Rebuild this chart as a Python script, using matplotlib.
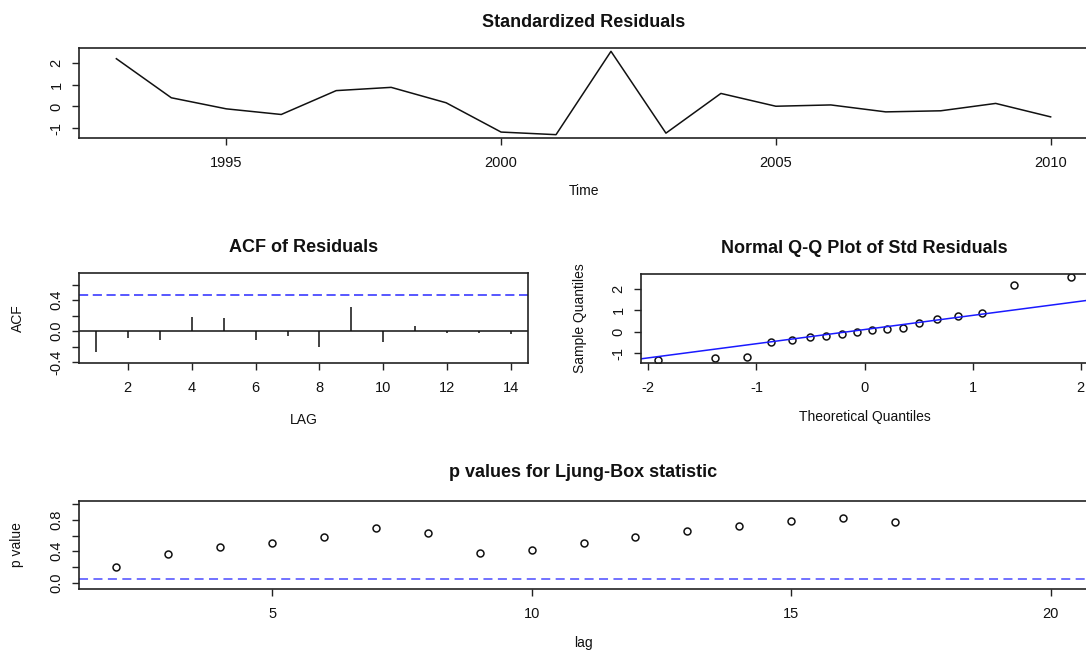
import numpy as np
import matplotlib
matplotlib.use("Agg")
import matplotlib.pyplot as plt
from statistics import NormalDist

plt.rcParams['font.family'] = ['Liberation Sans', 'DejaVu Sans']
plt.rcParams['axes.unicode_minus'] = False

# ---------------- data ----------------
years = list(range(1993, 2011))
std_resid = [2.20, 0.40, -0.11, -0.37, 0.73, 0.88, 0.17, -1.18, -1.30,
             2.54, -1.23, 0.60, 0.01, 0.07, -0.25, -0.20, 0.14, -0.48]

acf_lags = list(range(1, 15))
acf_vals = [-0.27, -0.095, -0.12, 0.18, 0.17, -0.12, -0.06, -0.20, 0.31,
            -0.135, 0.07, -0.025, -0.02, -0.04]

lb_lags = list(range(2, 18))
lb_pvals = [0.20, 0.37, 0.456, 0.50, 0.58, 0.70, 0.63, 0.38, 0.42,
            0.50, 0.58, 0.66, 0.72, 0.78, 0.82, 0.77]
lb_max_lag = 20

n_obs = len(std_resid)

W, H = 1086, 650
fig = plt.figure(figsize=(W / 100, H / 100), dpi=100)


def pos(l, t, r, b):
    return [l / W, 1 - b / H, (r - l) / W, (b - t) / H]


def rlim(lo, hi):
    d = (hi - lo) * 0.04
    return lo - d, hi + d


def style(ax):
    for s in ax.spines.values():
        s.set_linewidth(1.2)
        s.set_color('#222222')
    ax.tick_params(direction='out', length=5, width=1, colors='#222222',
                   labelsize=10.5, labelcolor='#111111')
    ax.tick_params(axis='x', pad=8)
    ax.tick_params(axis='y', pad=6)
    for lab in ax.get_yticklabels():
        lab.set_rotation(90)
        lab.set_va('center')


TITLE_KW = dict(fontsize=13, fontweight='bold', color='#111111')
LABEL_KW = dict(fontsize=10, color='#111111')

# ---------------- top: standardized residuals ----------------
ax1 = fig.add_axes(pos(79, 48, 1088, 138))
ax1.plot(years, std_resid, color='#111111', lw=1.1)
ax1.set_xlim(*rlim(min(years), max(years)))
ax1.set_ylim(*rlim(min(std_resid), max(std_resid)))
ax1.set_xticks([1995, 2000, 2005, 2010])
ax1.set_yticks([-1, 0, 1, 2])
ax1.set_yticklabels(['-1', '0', '1', '2'])
ax1.set_title('Standardized Residuals', pad=15, **TITLE_KW)
ax1.set_xlabel('Time', **LABEL_KW)
ax1.xaxis.set_label_coords(0.5, -0.59)
ax1.xaxis.label.set_va('center')
style(ax1)

# ---------------- ACF of residuals ----------------
ax2 = fig.add_axes(pos(79, 273, 528, 363))
ax2.vlines(acf_lags, 0, acf_vals, color='#222222', lw=1.2)
ax2.axhline(0, color='#111111', lw=1.1)
L = 2 / np.sqrt(n_obs)
for yv in (L, -L):
    ax2.axhline(yv, color='#2a2aff', lw=1.1, dashes=(6, 3))
ax2.set_xlim(*rlim(min(acf_lags), max(acf_lags)))
ax2.set_ylim(*rlim(min(acf_vals) - 0.1, min(1, max(acf_vals) + 0.4)))
ax2.set_xticks([2, 4, 6, 8, 10, 12, 14])
ax2.set_yticks([-0.4, -0.2, 0.0, 0.2, 0.4, 0.6])
ax2.set_yticklabels(['-0.4', '', '0.0', '', '0.4', ''])
ax2.set_title('ACF of Residuals', pad=15, **TITLE_KW)
ax2.set_xlabel('LAG', **LABEL_KW)
ax2.xaxis.set_label_coords(0.5, -0.63)
ax2.xaxis.label.set_va('center')
ax2.set_ylabel('ACF', **LABEL_KW)
ax2.yaxis.set_label_coords(-0.137, 0.5)
ax2.yaxis.label.set_va('center')
style(ax2)

# ---------------- Normal Q-Q plot ----------------
ax3 = fig.add_axes(pos(641, 274, 1088, 363))
sample = np.sort(np.array(std_resid))
probs = [(i + 1 - 0.5) / n_obs for i in range(n_obs)]
theo = np.array([NormalDist().inv_cdf(p) for p in probs])
ax3.plot(theo, sample, 'o', ms=5, mfc='none', mec='#111111', mew=1.1)
q1, q3 = np.quantile(sample, [0.25, 0.75])
t1, t3 = NormalDist().inv_cdf(0.25), NormalDist().inv_cdf(0.75)
slope = (q3 - q1) / (t3 - t1)
inter = q1 - slope * t1
ax3.axline((0, inter), slope=slope, color='#1a1aff', lw=1.1)
ax3.set_xlim(*rlim(theo.min(), theo.max()))
ax3.set_ylim(*rlim(sample.min(), sample.max()))
ax3.set_xticks([-2, -1, 0, 1, 2])
ax3.set_xticklabels(['-2', '-1', '0', '1', '2'])
ax3.set_yticks([-1, 0, 1, 2])
ax3.set_yticklabels(['-1', '0', '1', '2'])
ax3.set_title('Normal Q-Q Plot of Std Residuals', pad=15, **TITLE_KW)
ax3.set_xlabel('Theoretical Quantiles', **LABEL_KW)
ax3.xaxis.set_label_coords(0.5, -0.61)
ax3.xaxis.label.set_va('center')
ax3.set_ylabel('Sample Quantiles', **LABEL_KW)
ax3.yaxis.set_label_coords(-0.137, 0.5)
ax3.yaxis.label.set_va('center')
style(ax3)

# ---------------- Ljung-Box p values ----------------
ax4 = fig.add_axes(pos(79, 501, 1088, 589))
ax4.plot(lb_lags, lb_pvals, 'o', ms=5, mfc='none', mec='#111111', mew=1.1)
ax4.axhline(0.05, color='#6666ff', lw=1.3, dashes=(5, 3))
ax4.set_xlim(*rlim(min(lb_lags), lb_max_lag))
ax4.set_ylim(*rlim(-0.04, 1.0))
ax4.set_xticks([5, 10, 15, 20])
ax4.set_yticks([0.0, 0.2, 0.4, 0.6, 0.8, 1.0])
ax4.set_yticklabels(['0.0', '', '0.4', '', '0.8', ''])
ax4.set_title('p values for Ljung-Box statistic', pad=17, **TITLE_KW)
ax4.set_xlabel('lag', **LABEL_KW)
ax4.xaxis.set_label_coords(0.5, -0.61)
ax4.xaxis.label.set_va('center')
ax4.set_ylabel('p value', **LABEL_KW)
ax4.yaxis.set_label_coords(-0.061, 0.5)
ax4.yaxis.label.set_va('center')
style(ax4)

fig.savefig('out.png', dpi=100)
